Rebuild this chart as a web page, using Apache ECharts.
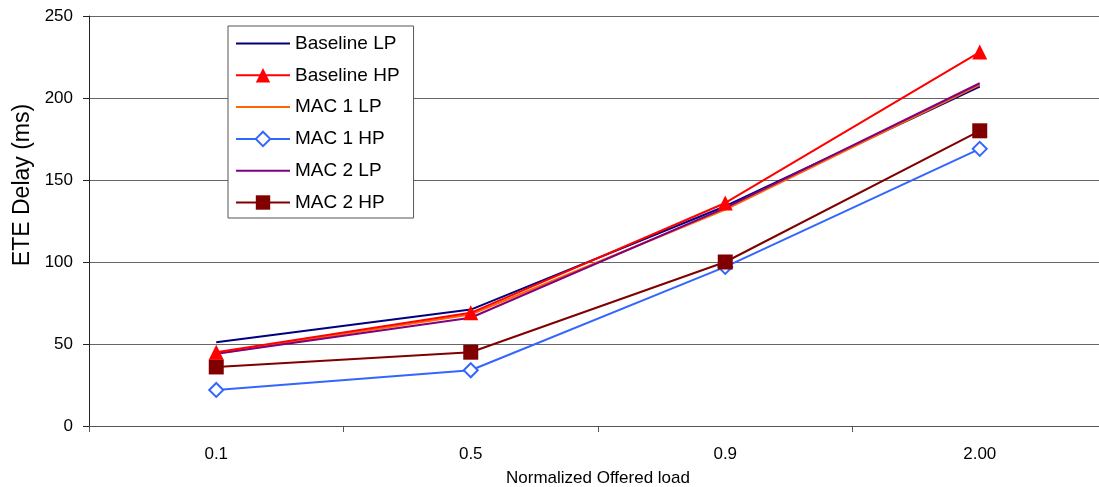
<!DOCTYPE html>
<html>
<head>
<meta charset="utf-8">
<script src="https://cdn.jsdelivr.net/npm/echarts@6/dist/echarts.min.js"></script>
<style>
html,body{margin:0;padding:0;background:#fff;overflow:hidden;width:1099px;height:487px;}
#chart{width:1107px;height:487px;}
</style>
</head>
<body>
<div id="chart"></div>
<script>
const categories = ['0.1', '0.5', '0.9', '2.00'];
const yTicks = { min: 0, max: 250, interval: 50 };
const baselineLP = [51, 71, 134, 207];
const baselineHP = [45, 69, 136, 228];
const mac1LP = [44, 68, 132, 208];
const mac1HP = [22, 34, 97, 169];
const mac2LP = [44, 66, 133, 209];
const mac2HP = [36, 45, 100, 180];

const FONT = '"Liberation Sans", Arial, sans-serif';
const chart = echarts.init(document.getElementById('chart'), null, { renderer: 'canvas' });

function mk(name, data, color, symbol, size, hollow) {
  return {
    name, type: 'line', data,
    symbol: symbol || 'none',
    symbolSize: size || 0,
    showSymbol: !!symbol,
    lineStyle: { color, width: 2 },
    itemStyle: hollow ? { color: '#fff', borderColor: color, borderWidth: 2 } : { color, borderColor: color, borderWidth: 0 },
    emphasis: { disabled: true },
    animation: false
  };
}

const noMarker = { opacity: 0 };

chart.setOption({
  animation: false,
  backgroundColor: '#fff',
  textStyle: { fontFamily: FONT },
  grid: { left: 89, right: 0, top: 16, bottom: 61, containLabel: false, outerBoundsMode: 'none' },
  legend: {
    orient: 'vertical',
    left: 228, top: 26,
    padding: [8, 14, 6, 7],
    borderColor: '#555', borderWidth: 1,
    backgroundColor: '#fff',
    itemWidth: 54, itemHeight: 18, itemGap: 12.8,
    textStyle: { fontSize: 19, color: '#000', fontFamily: FONT },
    data: [
      { name: 'Baseline LP', itemStyle: noMarker },
      { name: 'Baseline HP' },
      { name: 'MAC 1 LP', itemStyle: noMarker },
      { name: 'MAC 1 HP' },
      { name: 'MAC 2 LP', itemStyle: noMarker },
      { name: 'MAC 2 HP' }
    ]
  },
  xAxis: {
    type: 'category', data: categories, boundaryGap: true,
    name: 'Normalized Offered load', nameLocation: 'middle', nameGap: 44,
    nameTextStyle: { fontSize: 17, color: '#000', fontFamily: FONT },
    axisLine: { lineStyle: { color: '#555', width: 1 } },
    axisTick: { show: true, length: 6, lineStyle: { color: '#555' } },
    axisLabel: { fontSize: 17, color: '#000', margin: 20, fontFamily: FONT },
    splitLine: { show: false }
  },
  yAxis: {
    type: 'value', min: yTicks.min, max: yTicks.max, interval: yTicks.interval,
    name: 'ETE Delay (ms)', nameLocation: 'middle', nameGap: 54, nameRotate: 90,
    nameTextStyle: { fontSize: 23, color: '#000', fontFamily: FONT, padding: [0, 0, 0, 72] },
    axisLine: { show: true, lineStyle: { color: '#222', width: 1 } },
    axisTick: { show: true, length: 6, lineStyle: { color: '#222' } },
    axisLabel: { fontSize: 17, color: '#000', margin: 16, fontFamily: FONT },
    splitLine: { show: true, lineStyle: { color: '#666', width: 1 } }
  },
  series: [
    mk('Baseline LP', baselineLP, '#000080'),
    mk('MAC 1 LP', mac1LP, '#FF6600'),
    mk('MAC 2 LP', mac2LP, '#800080'),
    mk('MAC 1 HP', mac1HP, '#3366FF', 'diamond', 14, true),
    mk('MAC 2 HP', mac2HP, '#800000', 'rect', 15),
    mk('Baseline HP', baselineHP, '#FF0000', 'triangle', 15)
  ]
});
</script>
</body>
</html>
